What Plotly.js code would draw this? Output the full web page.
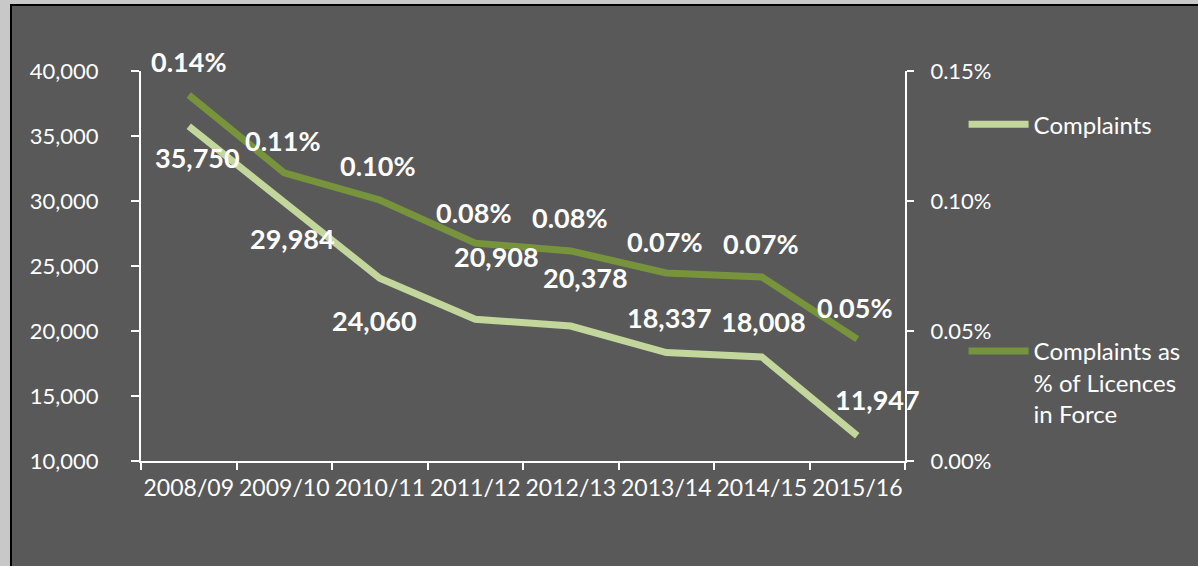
<!DOCTYPE html>
<html>
<head>
<meta charset="utf-8">
<script src="https://cdn.plot.ly/plotly-3.0.1.min.js"></script>
<style>
  html, body { margin: 0; padding: 0; width: 1198px; height: 566px; overflow: hidden; background: #c8c8c8; }
  #wrap { position: absolute; left: 10px; top: 4px; width: 1188px; height: 562px; border-left: 2px solid #000; border-top: 2px solid #000; background: #595959; }
  #chart { width: 1188px; height: 562px; }
</style>
</head>
<body>
<div id="wrap"><div id="chart"></div></div>
<script>
const categories = ["2008/09", "2009/10", "2010/11", "2011/12", "2012/13", "2013/14", "2014/15", "2015/16"];
const complaints = [35750, 29984, 24060, 20908, 20378, 18337, 18008, 11947];
const complaintsPct = [0.1408, 0.1108, 0.1004, 0.0838, 0.0808, 0.0723, 0.0708, 0.0469];
const seriesNames = ["Complaints", "Complaints as<br>% of Licences<br>in Force"];

// label offsets (pixels) matching the original manual label placement
const complaintsLabelShift = [[9, -31], [8, -37], [-5, -42], [21, 63], [15, 49], [3, 35], [2, 35], [20, 36]];
const pctLabelShift = [[0, 33], [-1, 32], [-2, 34], [-1, 31], [-1, 33], [-1, 32], [-1, 33], [-2, 32]];

function fmtInt(v) { return String(v).replace(/\B(?=(\d{3})+(?!\d))/g, ","); }

const FONT = "Lato, 'Open Sans', sans-serif";

const traces = [
  {
    x: categories, y: complaints, type: "scatter", mode: "lines",
    name: seriesNames[0], legend: "legend",
    line: { color: "#c3d69b", width: 7 }, yaxis: "y", hoverinfo: "skip"
  },
  {
    x: categories, y: complaintsPct, type: "scatter", mode: "lines",
    name: seriesNames[1], legend: "legend2",
    line: { color: "#77933c", width: 7 }, yaxis: "y2", hoverinfo: "skip"
  }
];

const annotations = [];
categories.forEach((c, i) => {
  annotations.push({
    x: c, y: complaints[i], xref: "x", yref: "y",
    text: fmtInt(complaints[i]), showarrow: false,
    xshift: complaintsLabelShift[i][0], yshift: complaintsLabelShift[i][1],
    font: { family: FONT, size: 27, color: "#ffffff", weight: "bold" }
  });
  annotations.push({
    x: c, y: complaintsPct[i], xref: "x", yref: "y2",
    text: complaintsPct[i].toFixed(2) + "%", showarrow: false,
    xshift: pctLabelShift[i][0], yshift: pctLabelShift[i][1],
    font: { family: FONT, size: 27, color: "#ffffff", weight: "bold" }
  });
});

const axisCommon = {
  showgrid: false, zeroline: false, showline: true, linecolor: "#ffffff", linewidth: 2,
  ticks: "outside", tickcolor: "#ffffff", tickwidth: 2,
  tickfont: { family: FONT, size: 22, color: "#ffffff" }
};

const layout = {
  width: 1188, height: 562,
  margin: { l: 129, r: 295, t: 65, b: 107 },
  paper_bgcolor: "#595959", plot_bgcolor: "#595959",
  showlegend: true,
  font: { family: FONT, color: "#ffffff" },
  xaxis: Object.assign({}, axisCommon, {
    type: "category", range: [-0.5, 7.5], tickson: "boundaries", ticklen: 7,
    tickangle: 0, ticklabelstandoff: 5,
    tickfont: { family: FONT, size: 23, color: "#ffffff" }
  }),
  yaxis: Object.assign({}, axisCommon, {
    range: [10000, 40000], dtick: 5000, tickformat: ",", ticklen: 8,
    ticklabelstandoff: 28
  }),
  yaxis2: Object.assign({}, axisCommon, {
    overlaying: "y", side: "right", range: [0, 0.15], dtick: 0.05,
    tickformat: ".2f", ticksuffix: "%", ticklen: 7, ticklabelstandoff: 12
  }),
  legend: {
    xref: "container", yref: "container",
    x: 0.801, y: 0.829, xanchor: "left", yanchor: "top", bgcolor: "rgba(0,0,0,0)",
    font: { family: FONT, size: 24, color: "#ffffff" }, itemwidth: 60
  },
  legend2: {
    xref: "container", yref: "container",
    x: 0.801, y: 0.4255, xanchor: "left", yanchor: "top", bgcolor: "rgba(0,0,0,0)",
    valign: "top",
    font: { family: FONT, size: 24, color: "#ffffff" }, itemwidth: 60
  },
  annotations: annotations
};

Plotly.newPlot("chart", traces, layout, { displayModeBar: false, staticPlot: true });
</script>
</body>
</html>
